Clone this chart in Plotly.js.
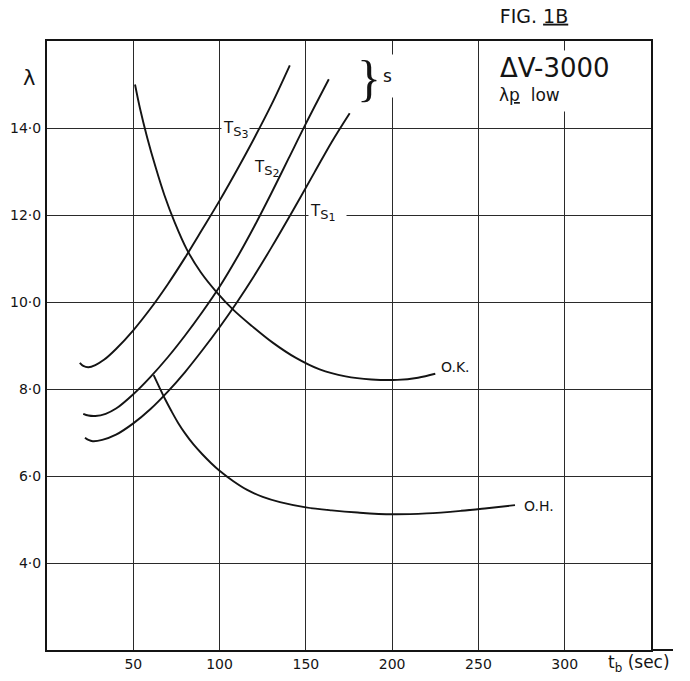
<!DOCTYPE html>
<html>
<head>
<meta charset="utf-8">
<script src="https://cdn.plot.ly/plotly-3.0.1.min.js"></script>
<style>
  html, body { margin: 0; padding: 0; background: #ffffff; }
  #chart { width: 690px; height: 681px; }
</style>
</head>
<body>
<div id="chart"></div>
<script>
// ---- Data ----
const okX  = [51, 54, 58, 63, 68, 74, 81, 89, 98, 108, 119, 131, 144, 158, 173, 188, 203, 215, 225];
const okY  = [15.0, 14.43, 13.79, 13.09, 12.46, 11.83, 11.21, 10.69, 10.24, 9.82, 9.44, 9.06, 8.72, 8.45, 8.29, 8.22, 8.21, 8.26, 8.35];

const ts3X = [19, 21, 24, 28, 33, 40, 50, 60, 70, 80, 90, 100, 110, 120, 130, 140.7];
const ts3Y = [8.6, 8.53, 8.5, 8.55, 8.67, 8.92, 9.35, 9.85, 10.41, 11.02, 11.67, 12.33, 13.03, 13.76, 14.53, 15.44];

const ts2X = [21, 24, 28, 34, 40, 50, 60, 70, 80, 90, 100, 110, 120, 130, 140, 150, 163.3];
const ts2Y = [7.43, 7.39, 7.38, 7.43, 7.55, 7.88, 8.28, 8.73, 9.23, 9.77, 10.35, 11.01, 11.73, 12.5, 13.3, 14.1, 15.12];

const ts1X = [22, 24, 26.5, 32, 40, 50, 60, 70, 80, 90, 100, 110, 120, 130, 142.6, 155, 165, 175.4];
const ts1Y = [6.88, 6.83, 6.8, 6.83, 6.95, 7.21, 7.54, 7.94, 8.39, 8.89, 9.42, 9.99, 10.6, 11.25, 12.11, 12.98, 13.68, 14.34];

const ohX  = [61.8, 65, 68.4, 72, 76, 80, 85, 90, 95, 100, 108, 116, 125, 135, 150, 165, 180, 200, 220, 240, 255, 271.2];
const ohY  = [8.32, 8.05, 7.77, 7.5, 7.22, 6.98, 6.72, 6.5, 6.3, 6.12, 5.88, 5.68, 5.52, 5.4, 5.28, 5.21, 5.16, 5.12, 5.14, 5.2, 5.26, 5.33];

const xTickVals = [50, 100, 150, 200, 250, 300];
const xTickText = ['50', '100', '150', '200', '250', '300'];
const yTickVals = [4, 6, 8, 10, 12, 14];
const yTickText = ['4·0', '6·0', '8·0', '10·0', '12·0', '14·0'];

const tsSub = (d) => 'T<sub><span style="font-size:13px">S</span><sub><span style="font-size:11px">' + d + '</span></sub></sub>';
const curveLabels = [
  {name: 'TS3', text: tsSub('3'), x: 101, y: 13.95, bg: true},
  {name: 'TS2', text: tsSub('2'), x: 118.5, y: 13.05, bg: false},
  {name: 'TS1', text: tsSub('1') + '\u00a0\u00a0', x: 151, y: 12.05, bg: true},
  {name: 'O.K.', text: 'O.K.', x: 227, y: 8.5, bg: false},
  {name: 'O.H.', text: 'O.H.', x: 275.5, y: 5.31, bg: false}
];

// ---- Drawing ----
const ink = '#141414';
const FONT = 'DejaVu Sans, Liberation Sans, sans-serif';

function curve(xs, ys, name) {
  return {
    type: 'scatter', mode: 'lines', name: name,
    x: xs, y: ys,
    line: {color: ink, width: 1.9, shape: 'spline', smoothing: 1},
    hoverinfo: 'skip', showlegend: false
  };
}

const traces = [
  curve(okX, okY, 'O.K.'),
  curve(ts3X, ts3Y, 'TS3'),
  curve(ts2X, ts2Y, 'TS2'),
  curve(ts1X, ts1Y, 'TS1'),
  curve(ohX, ohY, 'O.H.')
];

const annotations = curveLabels.map(l => ({
  xref: 'x', yref: 'y', x: l.x, y: l.y,
  xanchor: 'left', yanchor: 'middle',
  text: l.text, showarrow: false,
  font: {family: FONT, size: l.name.startsWith('T') ? 15 : 14, color: ink},
  bgcolor: l.bg ? '#ffffff' : 'rgba(0,0,0,0)', borderpad: 1
}));

annotations.push(
  // brace and "s"
  {xref: 'x', yref: 'y', x: 186.5, y: 15.15, xanchor: 'center', yanchor: 'middle',
   text: '}', showarrow: false,
   font: {family: 'Liberation Serif, serif', size: 50, color: ink}},
  {xref: 'x', yref: 'y', x: 193.5, y: 15.2, xanchor: 'left', yanchor: 'middle',
   text: 's', showarrow: false, width: 24, height: 40, align: 'left',
   bgcolor: '#ffffff', font: {family: FONT, size: 17, color: ink}},
  // box text
  {xref: 'paper', yref: 'paper', x: (497 - 47) / 604, y: (650 - 68) / 609, xanchor: 'left', yanchor: 'middle',
   text: 'ΔV-3000', showarrow: false, bgcolor: '#ffffff', borderpad: 2,
   font: {family: FONT, size: 26, color: ink}},
  {xref: 'paper', yref: 'paper', x: (497 - 47) / 604, y: (650 - 95) / 609, xanchor: 'left', yanchor: 'middle',
   text: 'λ<u>p</u>  low', showarrow: false, bgcolor: '#ffffff', width: 124, height: 30, align: 'left',
   font: {family: FONT, size: 17, color: ink}},
  // lambda axis label
  {xref: 'paper', yref: 'paper', x: (29 - 47) / 604, y: (650 - 78) / 609, xanchor: 'center', yanchor: 'middle',
   text: 'λ', showarrow: false, font: {family: FONT, size: 21, color: ink}},
  // x axis label
  {xref: 'paper', yref: 'paper', x: (606 - 47) / 604, y: (650 - 663) / 609, xanchor: 'left', yanchor: 'middle',
   text: 't<sub>b</sub> (sec)', showarrow: false, font: {family: FONT, size: 17, color: ink}}
);

const layout = {
  width: 690, height: 681,
  margin: {l: 47, r: 39, t: 41, b: 31, pad: 0},
  paper_bgcolor: '#ffffff', plot_bgcolor: '#ffffff',
  showlegend: false,
  title: {text: 'FIG. <u>1B</u>', x: 534 / 690, xanchor: 'center', y: 1 - 16 / 681, yanchor: 'middle',
          font: {family: FONT, size: 19, color: ink}},
  xaxis: {
    range: [0, 350], tickvals: xTickVals, ticktext: xTickText,
    showgrid: true, gridcolor: '#2a2a2a', gridwidth: 1,
    showline: true, linecolor: ink, linewidth: 2, mirror: true,
    zeroline: false, ticks: '', fixedrange: true,
    tickfont: {family: FONT, size: 14, color: ink}
  },
  yaxis: {
    range: [2, 16], tickvals: yTickVals, ticktext: yTickText,
    showgrid: true, gridcolor: '#2a2a2a', gridwidth: 1,
    showline: true, linecolor: ink, linewidth: 2, mirror: true,
    zeroline: false, ticks: '', ticklabelstandoff: 1, fixedrange: true,
    tickfont: {family: FONT, size: 14, color: ink}
  },
  annotations: annotations,
  shapes: [
    {type: 'line', xref: 'paper', yref: 'paper', x0: 1, x1: (673 - 47) / 604, y0: 0, y1: 0,
     line: {color: ink, width: 2}}
  ]
};

Plotly.newPlot('chart', traces, layout, {displayModeBar: false});
</script>
</body>
</html>
